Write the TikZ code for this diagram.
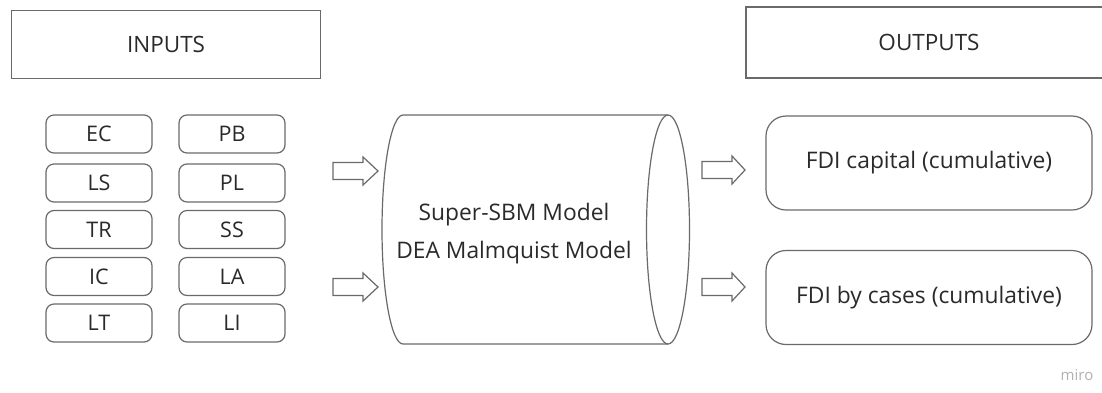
\documentclass[tikz,border=0pt]{standalone}
\usepackage{fontspec}
\setmainfont{Open Sans}
\definecolor{linec}{HTML}{6A6A6A}
\definecolor{textc}{HTML}{2A2A2A}
\tikzset{
  line/.style={draw=linec, line width=1.2pt},
  header/.style={line, rectangle, inner sep=0pt},
  varbox/.style={line, rounded corners=8pt, minimum width=106pt, minimum height=38pt, inner sep=0pt,
    font=\fontsize{21.5}{25}\selectfont, text=textc},
  outbox/.style={line, rounded corners=20pt, minimum width=326pt, minimum height=94pt, inner sep=0pt,
    font=\fontsize{22.8}{26}\selectfont, text=textc},
  blockarrow/.style={line, line join=miter},
  lbl/.style={font=\fontsize{22.5}{25}\selectfont, text=textc, inner sep=0pt}
}
\begin{document}
\begin{tikzpicture}[x=1pt,y=-1pt]
\useasboundingbox (0,0) rectangle (1102,392);
\fill[white] (0,0) rectangle (1102,392);
% headers
\node[header, minimum width=309pt, minimum height=68pt, anchor=north west] (inhead) at (11,10) {};
\node[lbl] (intext) at (inhead.center) {INPUTS};
\coordinate (oh1) at (1110,7);
\coordinate (oh2) at (746,7);
\coordinate (oh3) at (746,78);
\coordinate (oh4) at (1110,78);
\draw[line] (oh1) -- (oh2) -- (oh3) -- (oh4);
\node[lbl] (outtext) at (929,42) {OUTPUTS};
% input variables
\node[varbox] (EC) at (99,134) {EC};
\node[varbox] (LS) at (99,183) {LS};
\node[varbox] (TR) at (99,229.5) {TR};
\node[varbox] (IC) at (99,276.5) {IC};
\node[varbox] (LT) at (99,323) {LT};
\node[varbox] (PB) at (232,134) {PB};
\node[varbox] (PL) at (232,183) {PL};
\node[varbox] (SS) at (232,229.5) {SS};
\node[varbox] (LA) at (232,276.5) {LA};
\node[varbox] (LI) at (232,323) {LI};
% cylinder
\coordinate (ctl) at (403,115);
\coordinate (cbl) at (403,344);
\coordinate (ctr) at (668,115);
\coordinate (cbr) at (668,344);
\draw[line] (ctr) -- (ctl) arc[start angle=90, end angle=270, x radius=21, y radius=-114.5] -- (cbr);
\draw[line] (668,229.5) ellipse[x radius=21.5, y radius=114.5];
\node[font=\fontsize{22.8}{38}\selectfont, text=textc, align=center, inner sep=0pt] (model) at (514,234)
  {Super-SBM Model\\DEA Malmquist Model};
% block arrows
\newcommand\blkarrow[4]{% x, y centre, shaft length, head length
  \draw[blockarrow] (#1,#2-8.5) -- ++(#3,0) -- ++(0,-5.5) -- ++(#4,14) -- ++(-#4,14) -- ++(0,-5.5) -- ++(-#3,0) -- cycle;}
\blkarrow{333}{171}{30}{15}
\blkarrow{333}{287}{30}{15}
\blkarrow{702}{170}{30}{13}
\blkarrow{702}{287}{30}{13}
% outputs
\node[outbox] (cap) at (929,163) {FDI capital (cumulative)};
\node[outbox] (cases) at (929,297.5) {FDI by cases (cumulative)};
\node[font=\fontsize{15}{17}\selectfont, text=black!30, inner sep=0pt] (miro) at (1077,375) {miro};
\end{tikzpicture}
\end{document}
